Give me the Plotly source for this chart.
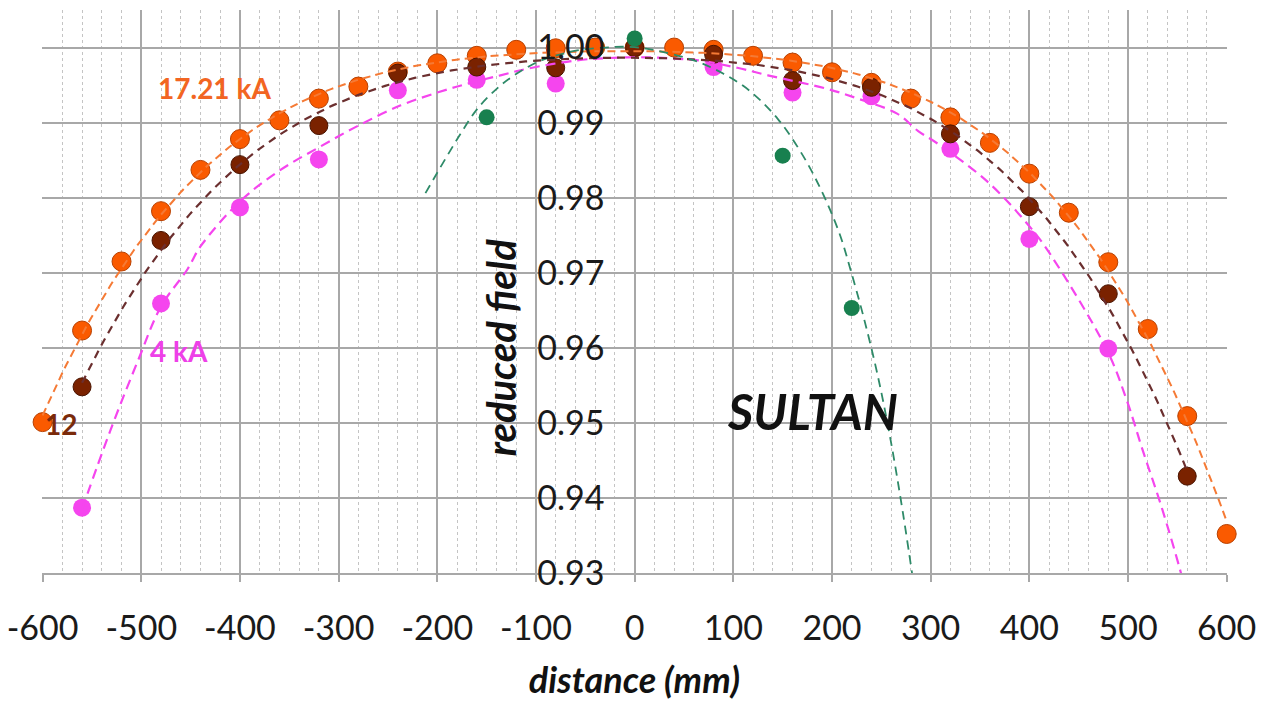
import numpy as np
import plotly.graph_objects as go

# ---------------- data ----------------
orange_x = [-600, -560, -520, -480, -440, -400, -360, -320, -280, -240, -200, -160, -120, -80, -40,
            0, 40, 80, 120, 160, 200, 240, 280, 320, 360, 400, 440, 480, 520, 560, 600]
orange_y = [0.9501, 0.9623, 0.9715, 0.9782, 0.9837, 0.9878, 0.9903, 0.9932, 0.9948, 0.9968, 0.9979,
            0.9989, 0.9997, 0.9999, 1.0000, 1.0000, 1.0000, 0.9997, 0.9989, 0.9980, 0.9967, 0.9953,
            0.9932, 0.9907, 0.9873, 0.9832, 0.9780, 0.9714, 0.9625, 0.9509, 0.9352]

dark_x = [-560, -480, -400, -320, -240, -160, -80, 0, 80, 160, 240, 320, 400, 480, 560]
dark_y = [0.9548, 0.9743, 0.9844, 0.9896, 0.9966, 0.9974, 0.9973, 1.0000, 0.9991, 0.9956, 0.9947,
          0.9885, 0.9788, 0.9672, 0.9429]

magenta_x = [-560, -480, -400, -320, -240, -160, -80, 80, 160, 240, 320, 400, 480]
magenta_y = [0.9387, 0.9659, 0.9787, 0.9851, 0.9943, 0.9957, 0.9952, 0.9974, 0.9940, 0.9935, 0.9865,
             0.9745, 0.9599]

green_x = [-150, 0, 150, 220]
green_y = [0.9907, 1.0012, 0.9856, 0.9653]

# 4 kA trend curve
magenta_curve_x = [-560, -531, -503, -480, -453, -440, -400, -360, -320, -280, -237, -200, -169, -136,
                   -108, -58, -27, 10, 43, 64, 104, 135, 195, 226, 266, 287, 307, 357, 400, 421, 479,
                   499, 515, 533, 553, 562]
magenta_curve_y = [0.9385, 0.9491, 0.9584, 0.9655, 0.9705, 0.9735, 0.9795, 0.9836, 0.9867, 0.9896,
                   0.9923, 0.9940, 0.9952, 0.9963, 0.9972, 0.9983, 0.9986, 0.9987, 0.9985, 0.9983,
                   0.9973, 0.9963, 0.9945, 0.9932, 0.9912, 0.9889, 0.9872, 0.9822, 0.9762, 0.9725,
                   0.9596, 0.9529, 0.9463, 0.9392, 0.9303, 0.9255]

# SULTAN trend curve
green_curve_x = [-212, -193, -176, -159, -139, -122, -98, -75, -55, -30, -10, 10, 26, 50, 70, 90, 110,
                 128, 145, 158, 175, 188, 198, 209, 219, 232, 246, 259, 272, 285]
green_curve_y = [0.9806, 0.9849, 0.9886, 0.9919, 0.9946, 0.9963, 0.9981, 0.9991, 0.9997, 1.0000,
                 1.0001, 0.9999, 0.9995, 0.9987, 0.9978, 0.9965, 0.9949, 0.9929, 0.9905, 0.9882,
                 0.9846, 0.9813, 0.9784, 0.9747, 0.9703, 0.9641, 0.9565, 0.9480, 0.9379, 0.9265]

x_ticks = [-600, -500, -400, -300, -200, -100, 0, 100, 200, 300, 400, 500, 600]
y_ticks = [0.93, 0.94, 0.95, 0.96, 0.97, 0.98, 0.99, 1.00]
y_tick_text = ["0.93", "0.94", "0.95", "0.96", "0.97", "0.98", "0.99", "1.00"]

# ---------------- styles ----------------
C_ORANGE = "#FA5A00"
C_ORANGE_LINE = "#F57A35"
C_DARK = "#7A2200"
C_DARK_LINE = "#6B2F2F"
C_MAGENTA = "#F545EE"
C_GREEN = "#18804F"
C_GREEN_LINE = "#2E8A68"
FONT = "Lato, 'Open Sans', sans-serif"


def trend(xs, ys, deg, x0, x1):
    p = np.polyfit(np.array(xs, float), np.array(ys, float), deg)
    xx = np.linspace(x0, x1, 300)
    return xx, np.polyval(p, xx)


fig = go.Figure()

# markers
fig.add_trace(go.Scatter(x=magenta_x, y=magenta_y, mode="markers", cliponaxis=False,
                         marker=dict(size=18, color=C_MAGENTA, line=dict(width=0)), name="4 kA"))
fig.add_trace(go.Scatter(x=orange_x, y=orange_y, mode="markers", cliponaxis=False,
                         marker=dict(size=19, color=C_ORANGE, line=dict(width=1, color="#B84000")),
                         name="17.21 kA"))
fig.add_trace(go.Scatter(x=dark_x, y=dark_y, mode="markers", cliponaxis=False,
                         marker=dict(size=18, color=C_DARK, line=dict(width=1, color="#4A1400")),
                         name="12 kA"))
fig.add_trace(go.Scatter(x=green_x, y=green_y, mode="markers", cliponaxis=False,
                         marker=dict(size=16, color=C_GREEN, line=dict(width=0)), name="SULTAN"))

# trend lines
fig.add_trace(go.Scatter(x=magenta_curve_x, y=magenta_curve_y, mode="lines",
                         line=dict(color=C_MAGENTA, width=2.2, dash="10px,6px", shape="spline",
                                   smoothing=1.0)))
ox, oy = trend(orange_x, orange_y, 4, -600, 600)
fig.add_trace(go.Scatter(x=ox, y=oy, mode="lines",
                         line=dict(color=C_ORANGE_LINE, width=2, dash="8px,5px")))
dx, dy = trend(dark_x, dark_y, 4, -560, 560)
fig.add_trace(go.Scatter(x=dx, y=dy, mode="lines",
                         line=dict(color=C_DARK_LINE, width=2.2, dash="8px,6px")))
fig.add_trace(go.Scatter(x=green_curve_x, y=green_curve_y, mode="lines",
                         line=dict(color=C_GREEN_LINE, width=1.8, dash="9px,6px", shape="spline")))

# the page body has an 8px margin, so the figure is drawn 8px smaller and offset
fig.update_layout(
    width=1261, height=693, autosize=False,
    margin=dict(l=34, r=42, t=2, b=128),
    paper_bgcolor="white", plot_bgcolor="white",
    showlegend=False,
    font=dict(family=FONT, color="#1a1a1a"),
    xaxis=dict(
        range=[-600.6, 600.3], tickvals=x_ticks, ticktext=[str(v) for v in x_ticks],
        automargin=False, ticklabeloverflow="allow",
        showgrid=True, gridcolor="#a8a8a8", gridwidth=1.5,
        zeroline=False,
        showline=True, linecolor="#a8a8a8", linewidth=2,
        ticks="outside", ticklen=7, tickcolor="#a8a8a8", tickwidth=1.5,
        tickfont=dict(size=34, family=FONT, color="#1a1a1a"),
        ticklabelstandoff=17,
        minor=dict(dtick=20, showgrid=True, gridcolor="#c4c4c4", gridwidth=1, griddash="dot"),
        title=dict(text="distance (mm)", standoff=24,
                   font=dict(size=36, family=FONT, style="italic", weight="bold", color="#111")),
    ),
    yaxis=dict(
        range=[0.93, 1.005], tickvals=y_ticks, ticktext=y_tick_text,
        automargin=False, ticklabeloverflow="allow",
        anchor="free", position=0.5, side="left",
        showgrid=True, gridcolor="#a8a8a8", gridwidth=1.5,
        zeroline=False, showline=False, ticks="",
        tickfont=dict(size=34, family=FONT, color="#1a1a1a"),
        ticklabelstandoff=30,
    ),
)

fig.add_annotation(x=-426, y=0.99467, xref="x", yref="y", text="17.21 kA", showarrow=False,
                   font=dict(size=28, color="#F26522", family=FONT, weight="bold"))
fig.add_annotation(x=-462, y=0.9596, xref="x", yref="y", text="4 kA", showarrow=False,
                   font=dict(size=28, color="#EE40E8", family=FONT, weight="bold"))
fig.add_annotation(x=-581, y=0.9499, xref="x", yref="y", text="12", showarrow=False,
                   font=dict(size=28, color="#7A2A0A", family=FONT, weight="bold"))
fig.add_annotation(x=180, y=0.9516, xref="x", yref="y", text="SULTAN", showarrow=False,
                   font=dict(size=49, color="#111", family=FONT, weight="bold", style="italic"))
fig.add_annotation(x=-136, y=0.96, xref="x", yref="y", text="reduced field", showarrow=False,
                   textangle=-90,
                   font=dict(size=40, color="#111", family=FONT, weight="bold", style="italic"))

fig.write_html("out.html")
